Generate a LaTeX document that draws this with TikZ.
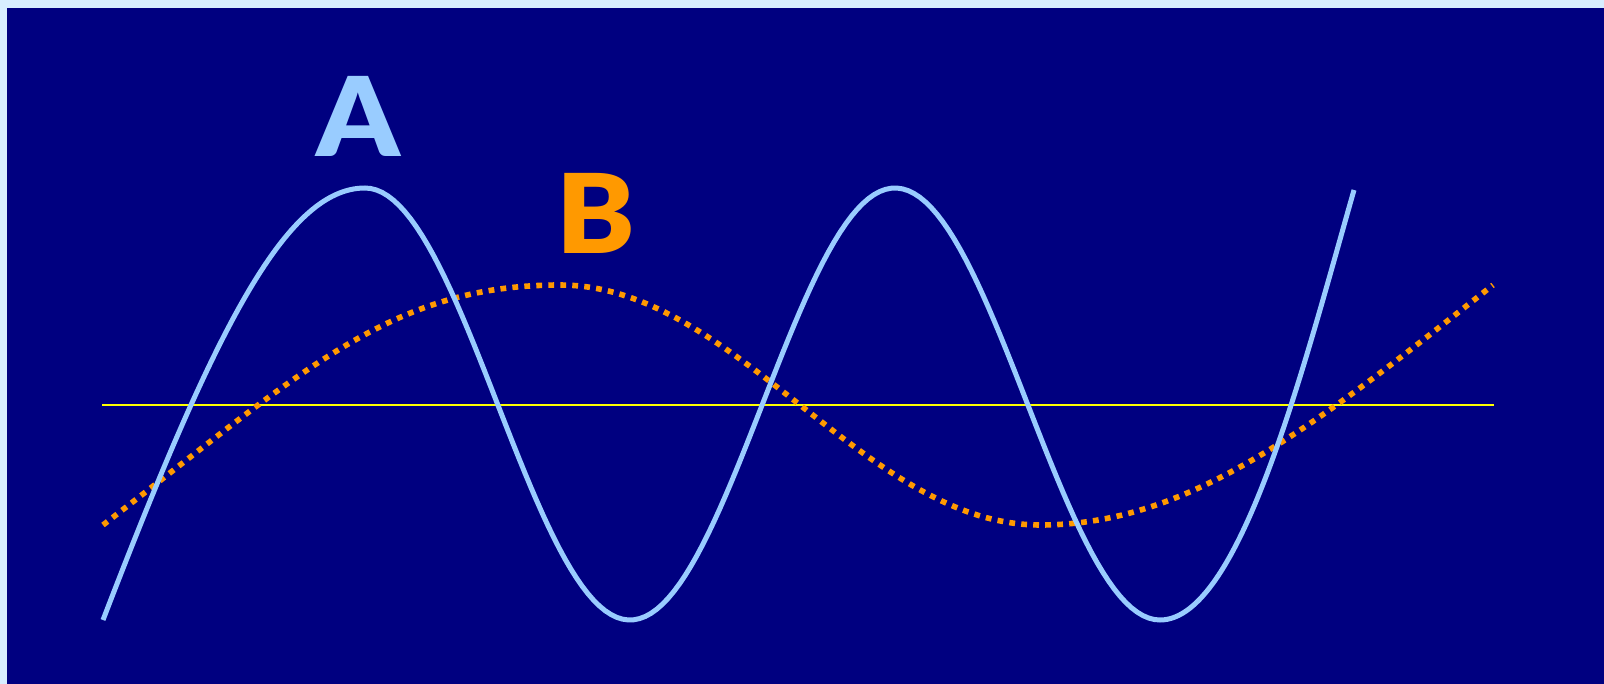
\documentclass[tikz,border=0pt]{standalone}
\usepackage{fontspec}
\newfontfamily\heavyfont{Lato Black}
\definecolor{frame}{HTML}{D8EEFF}
\definecolor{navybg}{HTML}{000080}
\definecolor{waveA}{HTML}{99CCFF}
\definecolor{waveB}{HTML}{FF9900}
\definecolor{axisY}{HTML}{FFFF00}
\begin{document}
\begin{tikzpicture}[x=0.5pt,y=-0.5pt,
  letter/.style={font=\heavyfont\fontsize{55}{55}\selectfont, inner sep=0pt, anchor=base, xscale=1.07},
  wavea/.style={draw=waveA, line width=2.5pt},
  waveb/.style={draw=waveB, line width=2.8pt, dash pattern=on 2.9pt off 3.1pt},
  axisline/.style={draw=axisY, line width=1pt}]
\useasboundingbox (0,0) rectangle (1604,684);
\fill[frame] (0,0) rectangle (1604,684);
\fill[navybg] (7,8) rectangle (1604,684);
% axis
\coordinate (axL) at (102,405);
\coordinate (axR) at (1494,405);
\draw[axisline] (axL) -- (axR);
% wave B (dotted)
\draw[waveb] (103,525) .. controls (303,371) and (390,285) .. (560,285)
  -- plot[domain=560:1040, samples=80] (\x, {405-120*cos((\x-560)*0.375)})
  .. controls (1190,525) and (1313,427) .. (1493,285);
% wave A
\draw[wavea] (103,620) .. controls (213,334) and (285,188) .. (365,188)
  -- plot[domain=365:1160, samples=140] (\x, {404-216*cos((\x-365)*0.6792453)})
  .. controls (1240,620) and (1304,365) .. (1354,190);
% letters
\node[letter, text=waveA] (labA) at (358,157) {A};
\node[letter, text=waveB] (labB) at (596,253) {B};
\end{tikzpicture}
\end{document}
